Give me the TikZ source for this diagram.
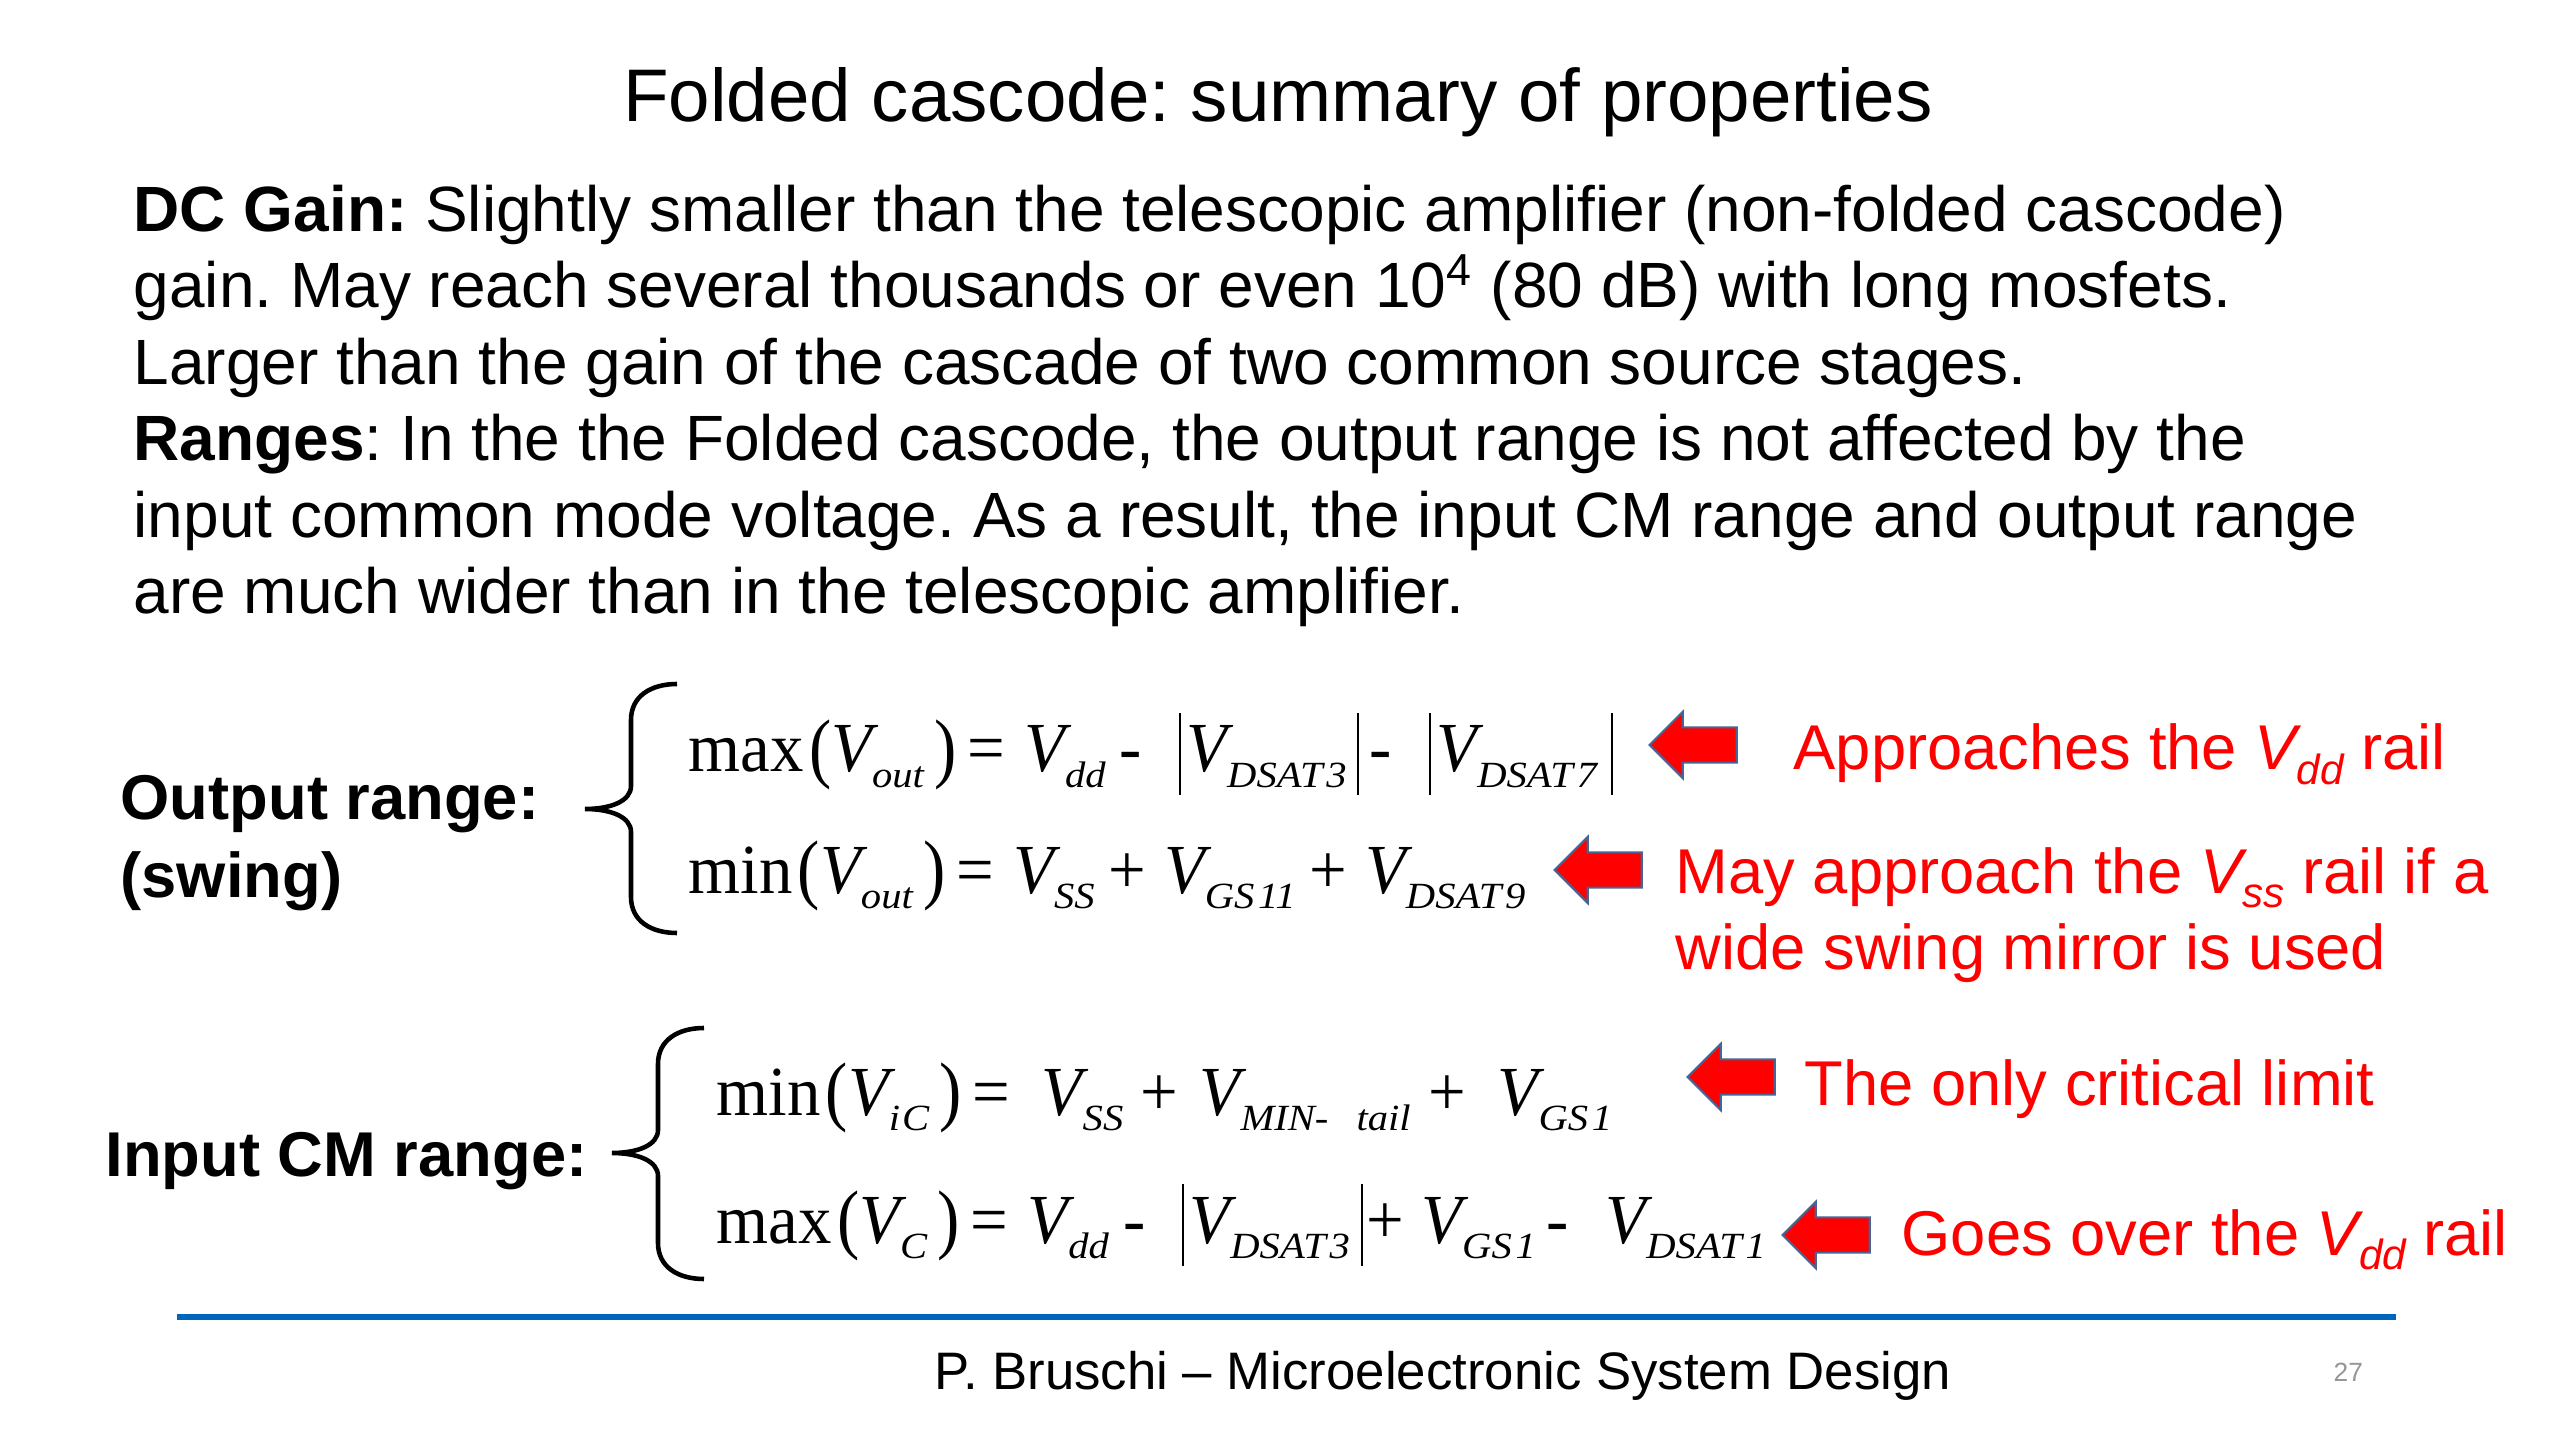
\documentclass[tikz,border=0pt]{standalone}
\usepackage{fontspec}
\setmainfont{Liberation Sans}
\newfontfamily\eqfont[FakeStretch=0.95]{Liberation Serif}
\newfontfamily\subfont[FakeStretch=1.1]{Liberation Serif}
\usepackage{graphicx}
\usetikzlibrary{shapes.arrows}
\frenchspacing

\definecolor{slideblue}{RGB}{0,102,187}
\definecolor{arrowedge}{RGB}{70,100,150}
\definecolor{pagegray}{RGB}{150,150,150}

\newcommand\Vsub[1]{{\itshape V}\raisebox{-4.5pt}{\subfont\fontsize{10.5}{12}\selectfont\itshape #1}}
\newcommand\rsub[1]{{\itshape V}\raisebox{-4pt}{\fontsize{12}{14}\selectfont\itshape #1}}
\newcommand\lpar{\raisebox{-0.5pt}{\scalebox{1}[1.1]{(}}}
\newcommand\rpar{\raisebox{-0.5pt}{\scalebox{1}[1.1]{)}}}
\newcommand\absbar{\rule[-6.5pt]{0.6pt}{23.3pt}}
\newcommand\eqpl{\kern4pt+\kern5pt}
\newcommand\eqmi{\kern4pt-\kern10.5pt}

\tikzset{
  txt/.style={anchor=base west, inner sep=0pt, font=\fontsize{18.2}{22}\selectfont},
  lbl/.style={anchor=base west, inner sep=0pt, font=\bfseries\fontsize{18}{22}\selectfont},
  eq/.style={anchor=base west, inner sep=0pt, font=\eqfont\fontsize{20}{24}\selectfont},
  note/.style={anchor=base west, inner sep=0pt, text=red, font=\fontsize{18}{22}\selectfont},
  redarrow/.style={single arrow, shape border rotate=180, fill=red, draw=arrowedge,
    line width=0.6pt, inner xsep=0pt, inner ysep=0.165cm,
    single arrow head extend=0.155cm, minimum height=0.87cm},
}

\begin{document}
\begin{tikzpicture}[x=0.01cm, y=-0.01cm]
\useasboundingbox (0,0) rectangle (2560,1440);

\node[anchor=base, inner sep=0pt, font=\fontsize{21.2}{26}\selectfont] (title) at (1278,122) {Folded cascode: summary of properties};

% text block
\node[txt] (l1) at (133,232) {\textbf{DC Gain:} Slightly smaller than the telescopic amplifier (non-folded cascode)};
\node[txt] (l2) at (133,308) {gain. May reach several thousands or even 10\textsuperscript{4} (80 dB) with long mosfets.};
\node[txt] (l3) at (133,385) {Larger than the gain of the cascade of two common source stages.};
\node[txt] (l4) at (133,461) {\textbf{Ranges}: In the the Folded cascode, the output range is not affected by the};
\node[txt] (l5) at (133,538) {input common mode voltage. As a result, the input CM range and output range};
\node[txt] (l6) at (133,614) {are much wider than in the telescopic amplifier.};

% left labels
\node[lbl] (outlbl) at (120,820) {Output range:};
\node[lbl] (swing) at (120,897) {(swing)};
\node[lbl] (inlbl) at (105,1176) {Input CM range:};

% braces: end x / vertical x / tip x / top / middle / bottom
\foreach \xe/\xv/\xt/\ya/\ym/\yb in {677/631/585/684/809/933, 704/658/612/1028/1153/1279}
{
  \draw[line width=1.3pt]
    (\xe,\ya) .. controls (\xv+20,\ya) and (\xv,\ya+12) .. (\xv,\ya+36)
    -- (\xv,\ym-23) .. controls (\xv,\ym-8) and (\xv-20,\ym) .. (\xt,\ym)
    .. controls (\xv-20,\ym) and (\xv,\ym+8) .. (\xv,\ym+23)
    -- (\xv,\yb-36) .. controls (\xv,\yb-12) and (\xv+20,\yb) .. (\xe,\yb);
}

% equations
\node[eq] (eqmaxout) at (688,772) {max\kern1.5pt\lpar\Vsub{out}\kern3pt\rpar\kern3pt=\kern5.5pt\Vsub{dd}\eqmi\absbar\kern1.5pt\Vsub{DSAT\kern.1em3}\kern3pt\absbar\kern3pt-\kern10.5pt\absbar\kern1.5pt\Vsub{DSAT\kern.1em7}\kern4pt\absbar};
\node[eq] (eqminout) at (688,893) {min\kern1.5pt\lpar\Vsub{out}\kern3pt\rpar\kern3pt=\kern5.5pt\Vsub{SS}\eqpl\Vsub{GS\kern.1em11}\eqpl\Vsub{DSAT\kern.1em9}};
\node[eq] (eqminic) at (716,1115) {min\kern1.5pt\lpar\Vsub{i\kern.05em C}\kern3pt\rpar\kern3pt=\kern9pt\Vsub{SS}\kern5pt+\kern6pt\Vsub{MIN-\kern8pt tail}\kern5pt+\kern9pt\Vsub{GS\kern.1em1}};
\node[eq] (eqmaxc) at (716,1243) {max\kern1.5pt\lpar\Vsub{C}\kern3pt\rpar\kern3pt=\kern5.5pt\Vsub{dd}\eqmi\absbar\kern1.5pt\Vsub{DSAT\kern.1em3}\kern3pt\absbar\kern1pt+\kern5pt\Vsub{GS\kern.1em1}\kern3pt-\kern10.5pt\Vsub{DSAT\kern.1em1}};

% red arrows and remarks
\node[redarrow] (a1) at (1702,745) {};
\node[redarrow] (a2) at (1607,870) {};
\node[redarrow] (a3) at (1740,1077) {};
\node[redarrow] (a4) at (1835,1235) {};

\node[note] (n1) at (1793,770) {Approaches the \rsub{dd} rail};
\node[note] (n2) at (1675,893) {May approach the \rsub{ss} rail if a};
\node[note] (n2b) at (1675,969) {wide swing mirror is used};
\node[note] (n3) at (1804,1105) {The only critical limit};
\node[note] (n4) at (1901,1255) {Goes over the \rsub{dd} rail};

% footer
\draw[slideblue, line width=0.06cm] (177,1317) -- (2396,1317);
\node[anchor=base west, inner sep=0pt, font=\fontsize{15}{18}\selectfont] (foot) at (934,1389) {P. Bruschi -- Microelectronic System Design};
\node[anchor=base west, inner sep=0pt, text=pagegray, font=\fontsize{7.5}{9}\selectfont] (page) at (2333,1381) {27};
\end{tikzpicture}
\end{document}
